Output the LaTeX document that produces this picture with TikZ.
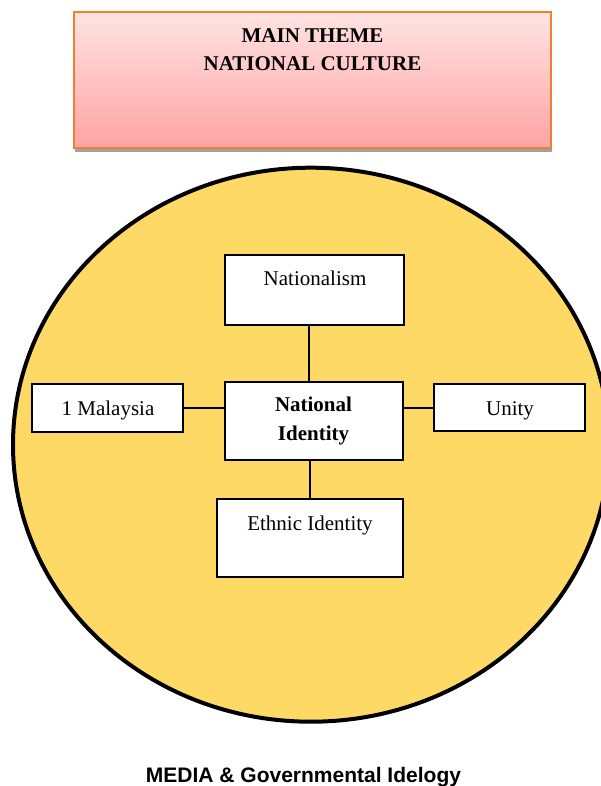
\documentclass[tikz,border=0pt]{standalone}
\usepackage{fontspec}
\setmainfont{Liberation Serif}
\newfontfamily\arialfont{Liberation Sans}
\usetikzlibrary{shapes.geometric}
\definecolor{gold}{HTML}{FFD966}
\definecolor{pinktop}{HTML}{FFE3E3}
\definecolor{pinkbot}{HTML}{FFA3A3}
\definecolor{orangeborder}{HTML}{F0802F}
\definecolor{shadowgray}{HTML}{A0A0A0}
\begin{document}
\begin{tikzpicture}[x=1pt,y=-1pt,
  wbox/.style={draw=black,line width=2.2pt,fill=white,inner sep=0pt},
  txt/.style={anchor=base,inner sep=0pt,font=\fontsize{21}{25}\selectfont},
  btxt/.style={txt,font=\fontsize{21}{25}\selectfont\bfseries},
  link/.style={line width=2pt}]
\useasboundingbox (0,0) rectangle (600,786);
% top theme box with shadow
\node[fill=shadowgray,inner sep=0pt,minimum width=477pt,minimum height=136pt] (shadow) at (313.5,84) {};
\node[draw=orangeborder,line width=1.5pt,top color=pinktop,bottom color=pinkbot,inner sep=0pt,minimum width=477pt,minimum height=136pt] (theme) at (312.5,80) {};
\node[btxt] (t1) at (312.5,43) {MAIN THEME};
\node[btxt] (t2) at (312.5,71) {NATIONAL CULTURE};
% big circle
\node[ellipse,draw=black,line width=4pt,fill=gold,inner sep=0pt,minimum width=596pt,minimum height=554pt] (field) at (311,444.7) {};
% boxes
\node[wbox,minimum width=179pt,minimum height=70pt] (nat) at (314.5,290) {};
\node[wbox,minimum width=178pt,minimum height=78pt] (ni) at (314,421) {};
\node[wbox,minimum width=186pt,minimum height=78pt] (eth) at (310,538) {};
\node[wbox,minimum width=151pt,minimum height=48pt] (mal) at (107.5,408) {};
\node[wbox,minimum width=151pt,minimum height=47pt] (uni) at (509.5,407.5) {};
% texts
\node[txt] (natt) at (315,285) {Nationalism};
\node[btxt] (ni1) at (313.5,411.7) {National};
\node[btxt] (ni2) at (313.5,440) {Identity};
\node[txt] (etht) at (310,530) {Ethnic Identity};
\node[txt] (malt) at (108,415) {1 Malaysia};
\node[txt] (unit) at (510,415) {Unity};
% connectors
\draw[link] ([xshift=-5.5pt]nat.south) -- ([xshift=-5pt]ni.north);
\draw[link] ([xshift=-4pt]ni.south) -- ([xshift=0pt]eth.north);
\draw[link] (mal.east) -- (mal.east -| ni.west);
\draw[link] (uni.west -| ni.east) -- (uni.west);
% bottom caption
\node[anchor=base,inner sep=0pt,font=\arialfont\bfseries\fontsize{21}{25}\selectfont] (cap) at (303.5,782) {MEDIA \& Governmental Idelogy};
\end{tikzpicture}
\end{document}
